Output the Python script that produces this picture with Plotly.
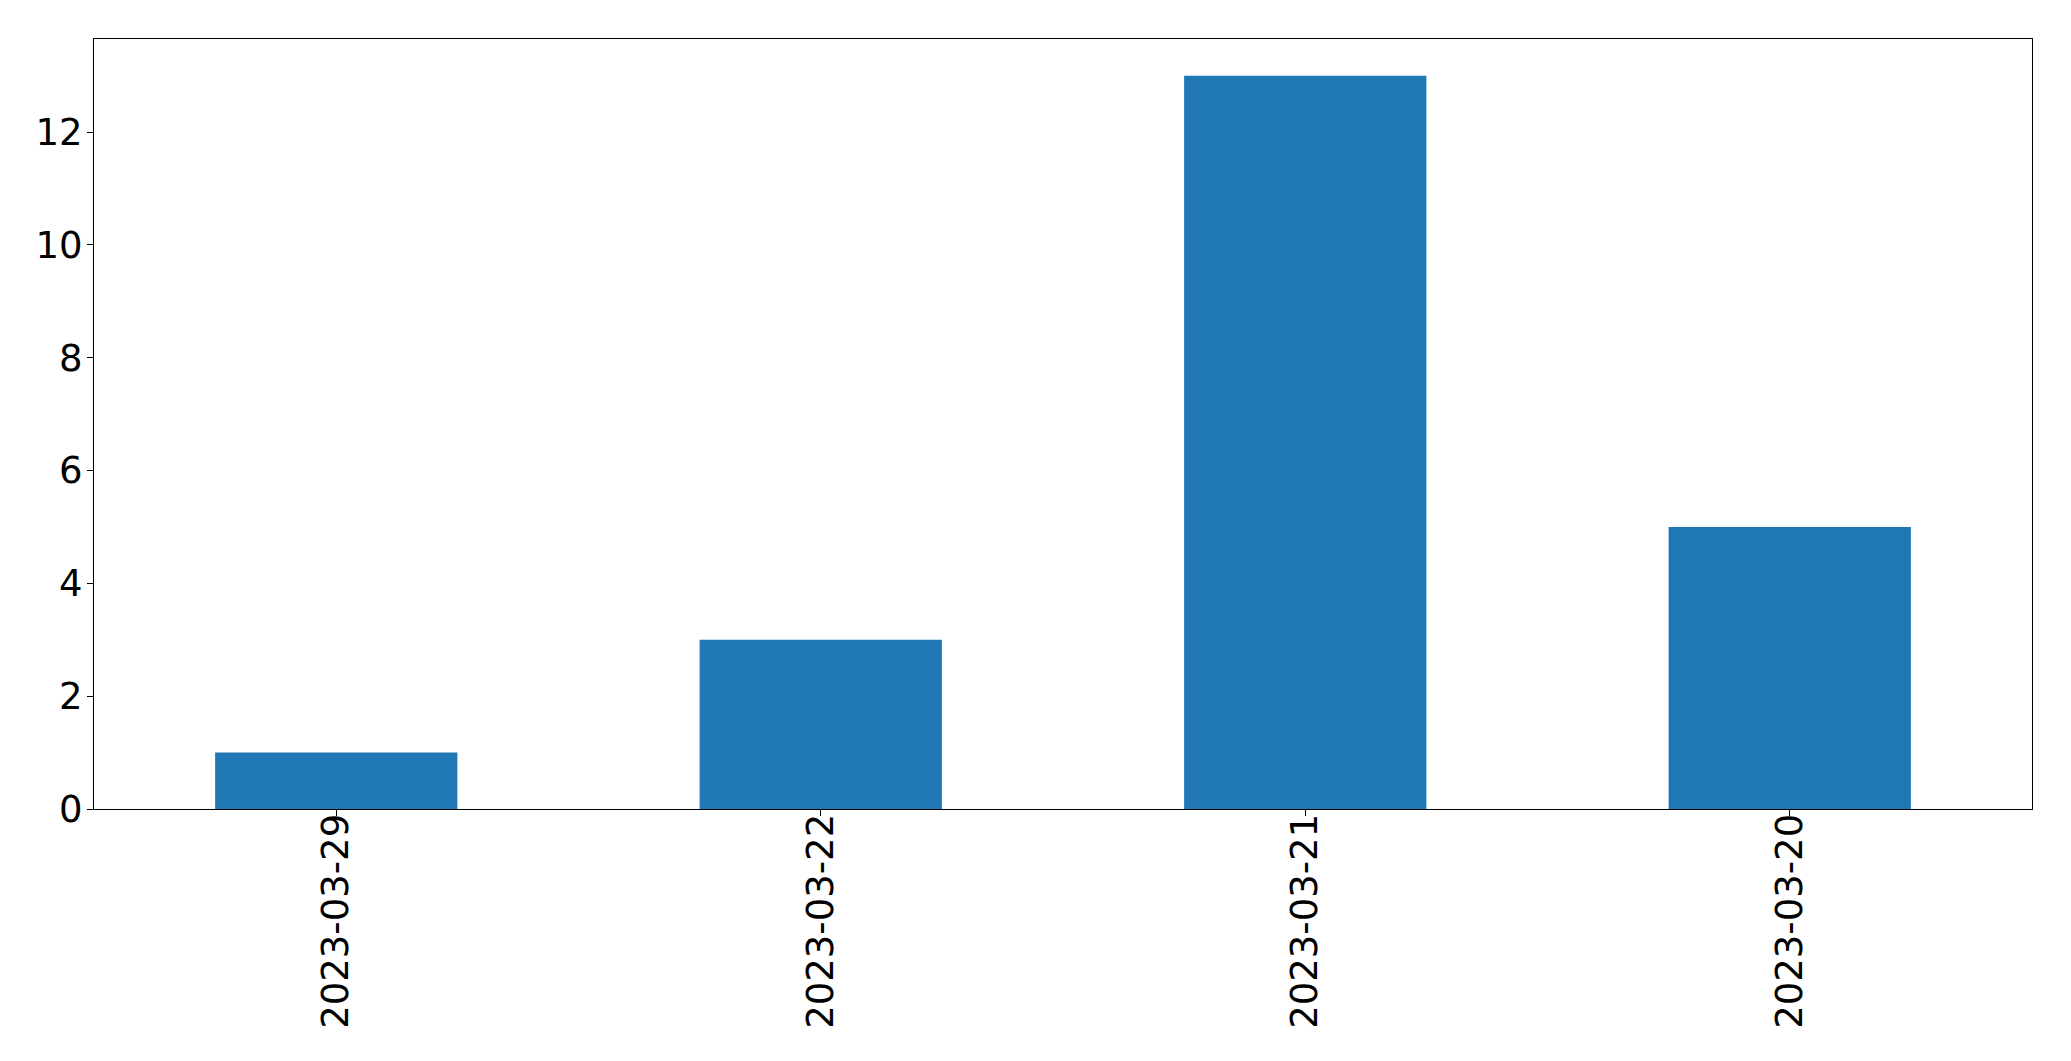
import plotly.graph_objects as go

categories = ["2023-03-29", "2023-03-22", "2023-03-21", "2023-03-20"]
values = [1, 3, 13, 5]
y_ticks = [0, 2, 4, 6, 8, 10, 12]

fig = go.Figure(
    go.Bar(
        x=categories,
        y=values,
        width=0.5,
        marker=dict(color="#1f77b4", line=dict(width=0)),
    )
)

font = dict(family="DejaVu Sans", size=37, color="black")

fig.update_layout(
    width=2055,
    height=1045,
    margin=dict(l=86, r=31, t=31, b=244, pad=0, autoexpand=False),
    paper_bgcolor="white",
    plot_bgcolor="white",
    showlegend=False,
    font=font,
)
fig.update_xaxes(
    type="category",
    range=[-0.5, 3.5],
    tickangle=-90,
    ticks="outside",
    ticklen=6,
    tickwidth=1,
    tickcolor="black",
    showline=True,
    linecolor="black",
    linewidth=1,
    mirror=True,
    showgrid=False,
    zeroline=False,
    tickfont=font,
    automargin=False,
    ticklabelstandoff=-17,
)
fig.update_yaxes(
    range=[0, 13.65],
    tickvals=y_ticks,
    ticktext=[str(v) for v in y_ticks],
    ticks="outside",
    ticklen=6,
    tickwidth=1,
    tickcolor="black",
    showline=True,
    linecolor="black",
    linewidth=1,
    mirror=True,
    showgrid=False,
    zeroline=False,
    tickfont=font,
    automargin=False,
    ticklabelstandoff=-3,
)

fig.write_html("out.html")
